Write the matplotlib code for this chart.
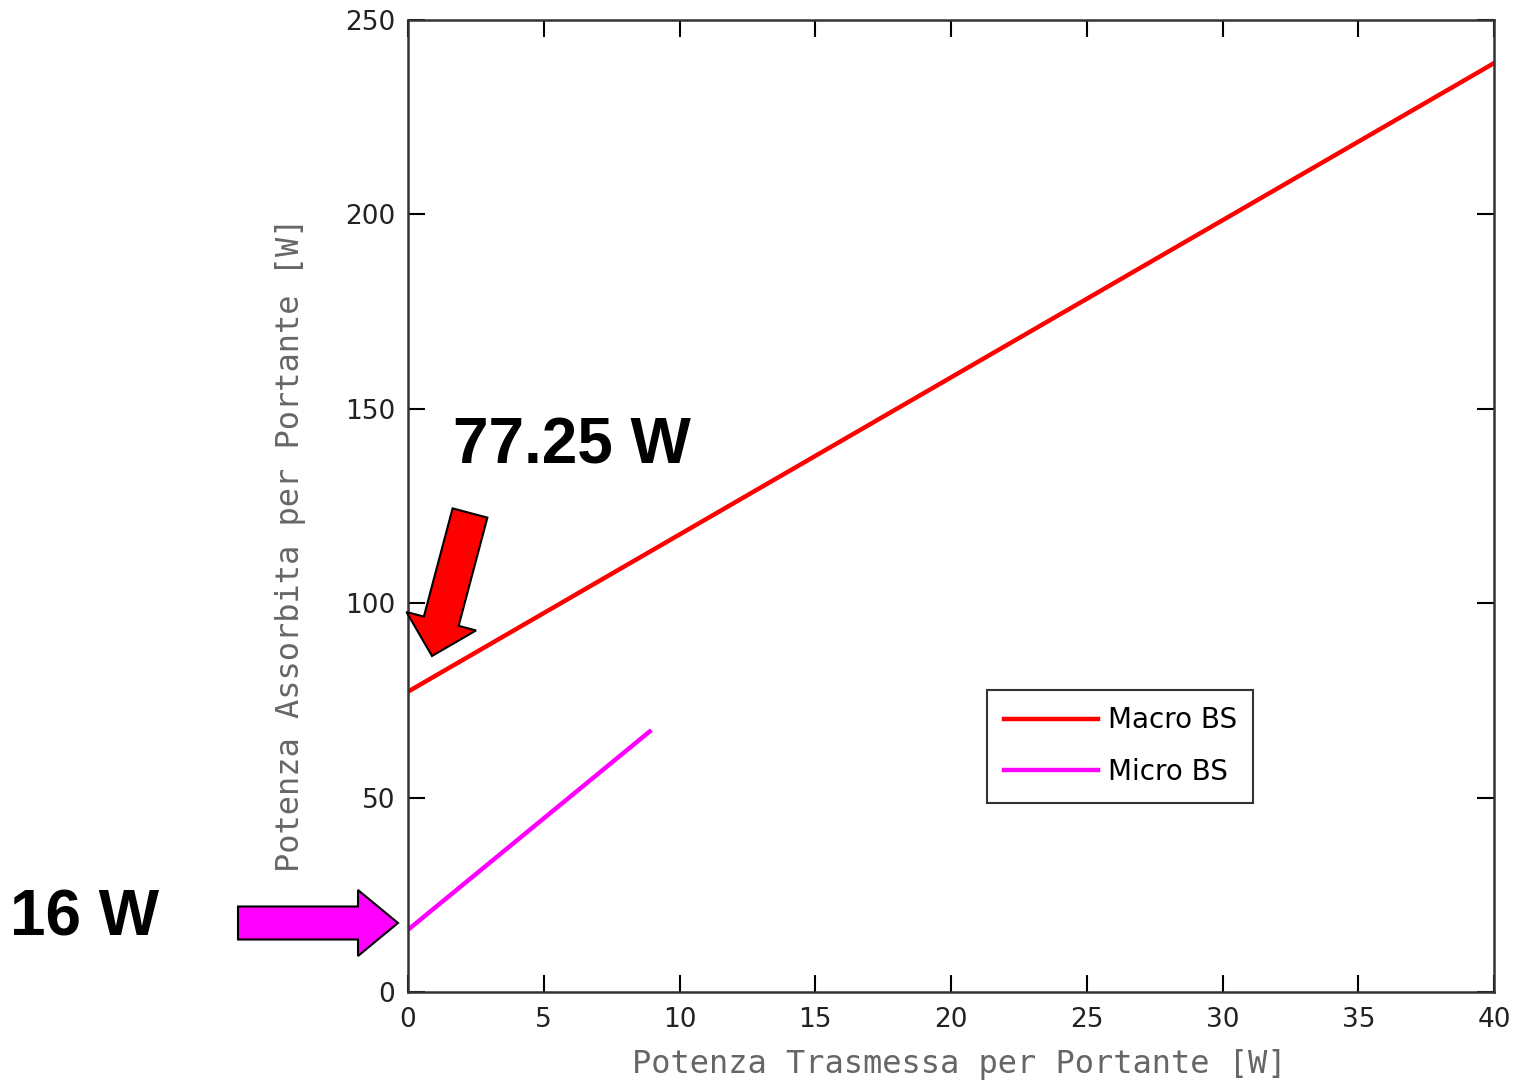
import matplotlib.pyplot as plt
from matplotlib.patches import FancyArrow

# transmitted power per carrier [W] -> absorbed power per carrier [W]
macro_x = [0, 40]
macro_y = [77.25, 238.9]
micro_x = [0, 8.9]
micro_y = [16, 67.0]

x_ticks = [0, 5, 10, 15, 20, 25, 30, 35, 40]
y_ticks = [0, 50, 100, 150, 200, 250]

fig = plt.figure(figsize=(15.14, 10.85), dpi=100)
ax = fig.add_axes([408 / 1514, 93 / 1085, 1086 / 1514, 972 / 1085])

ax.plot(macro_x, macro_y, color="#ff0000", lw=3.2, label="Macro BS")
ax.plot(micro_x, micro_y, color="#ff00ff", lw=3.2, label="Micro BS")

ax.set_xlim(0, 40)
ax.set_ylim(0, 250)
ax.set_xticks(x_ticks)
ax.set_yticks(y_ticks)
ax.tick_params(direction="in", length=12, width=1.5, top=True, right=True,
               labelsize=19, labelcolor="#222222")
ax.tick_params(axis="y", pad=9)
ax.tick_params(axis="x", pad=11)
for sp in ax.spines.values():
    sp.set_linewidth(1.8)
    sp.set_color("#333333")

lab = dict(fontsize=23, color="#666666", family="DejaVu Sans Mono")
ax.set_xlabel("Potenza Trasmessa per Portante [W]", va="center", **lab)
ax.set_ylabel("Potenza Assorbita per Portante [W]", va="center", **lab)
ax.xaxis.set_label_coords(0.508, -0.075)
ax.yaxis.set_label_coords(-0.108, 0.46)

leg = ax.legend(loc="upper left", bbox_to_anchor=(0.533, 0.311), borderaxespad=0,
                fontsize=20, frameon=True, fancybox=False, handlelength=3.4,
                borderpad=0.6, labelspacing=0.85, handletextpad=0.35)
leg.get_frame().set_edgecolor("black")
leg.get_frame().set_linewidth(1.5)

# callouts for the idle power of each base station
fig.text(453 / 1514, 1 - 447 / 1085, "77.25 W", fontsize=46, fontweight="bold",
         family="Liberation Sans", va="center", ha="left")
fig.text(10 / 1514, 1 - 919 / 1085, "16 W", fontsize=46, fontweight="bold",
         family="Liberation Sans", va="center", ha="left")

tr = fig.dpi_scale_trans
fig.add_artist(FancyArrow(4.70, 5.72, -0.38, -1.43, width=0.36, head_width=0.72,
                          head_length=0.36, length_includes_head=True,
                          transform=tr, facecolor="#ff0000", edgecolor="black", lw=1.5))
fig.add_artist(FancyArrow(2.38, 1.62, 1.60, 0.0, width=0.33, head_width=0.66,
                          head_length=0.40, length_includes_head=True,
                          transform=tr, facecolor="#ff00ff", edgecolor="black", lw=1.5))

fig.savefig("out.png", dpi=100)
